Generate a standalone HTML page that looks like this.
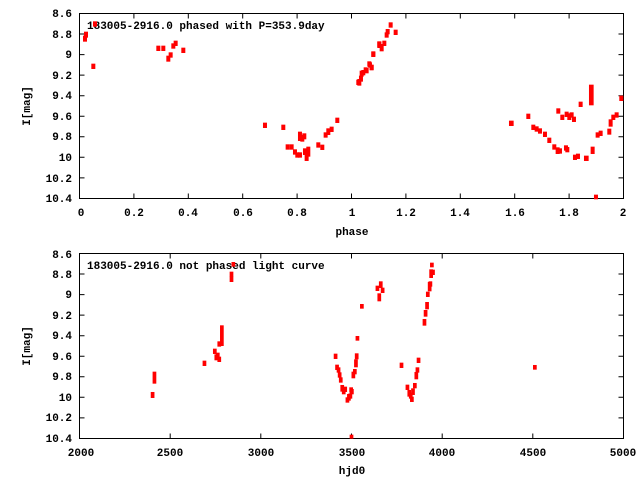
<!DOCTYPE html>
<html><head><style>
html,body{margin:0;padding:0;background:#fff;}
svg text{font-family:"Liberation Mono","DejaVu Sans Mono",monospace;font-weight:bold;font-size:11px;fill:#000;}
</style></head><body>
<svg width="640" height="480" xmlns="http://www.w3.org/2000/svg">
<g stroke="#000" stroke-width="1" fill="none">
<rect x="79.5" y="13.5" width="544" height="185"/>
<rect x="79.5" y="253.5" width="544" height="185"/>
<path d="M79.5 34h5M79.5 54.6h5M79.5 75.1h5M79.5 95.7h5M79.5 116.2h5M79.5 136.8h5M79.5 157.3h5M79.5 177.9h5
M623.5 34h-5M623.5 54.6h-5M623.5 75.1h-5M623.5 95.7h-5M623.5 116.2h-5M623.5 136.8h-5M623.5 157.3h-5M623.5 177.9h-5
M79.5 274h5M79.5 294.6h5M79.5 315.1h5M79.5 335.7h5M79.5 356.2h5M79.5 376.8h5M79.5 397.3h5M79.5 417.9h5
M623.5 274h-5M623.5 294.6h-5M623.5 315.1h-5M623.5 335.7h-5M623.5 356.2h-5M623.5 376.8h-5M623.5 397.3h-5M623.5 417.9h-5
M133.9 198.5v-5M188.3 198.5v-5M242.7 198.5v-5M297.1 198.5v-5M351.5 198.5v-5M405.9 198.5v-5M460.3 198.5v-5M514.7 198.5v-5M569.1 198.5v-5
M133.9 13.5v5M188.3 13.5v5M242.7 13.5v5M297.1 13.5v5M351.5 13.5v5M405.9 13.5v5M460.3 13.5v5M514.7 13.5v5M569.1 13.5v5
M170.2 438.5v-5M260.8 438.5v-5M351.5 438.5v-5M442.2 438.5v-5M532.8 438.5v-5
M170.2 253.5v5M260.8 253.5v5M351.5 253.5v5M442.2 253.5v5M532.8 253.5v5"/>
</g>
<g text-anchor="end">
<text x="72" y="17">8.6</text><text x="72" y="38">8.8</text><text x="72" y="58">9</text><text x="72" y="79">9.2</text><text x="72" y="99">9.4</text><text x="72" y="120">9.6</text><text x="72" y="140">9.8</text><text x="72" y="161">10</text><text x="72" y="182">10.2</text><text x="72" y="202">10.4</text>
<text x="72" y="258">8.6</text><text x="72" y="278">8.8</text><text x="72" y="298">9</text><text x="72" y="319">9.2</text><text x="72" y="339">9.4</text><text x="72" y="360">9.6</text><text x="72" y="380">9.8</text><text x="72" y="401">10</text><text x="72" y="421">10.2</text><text x="72" y="442">10.4</text>
</g>
<g text-anchor="middle">
<text x="81" y="216">0</text><text x="134" y="216">0.2</text><text x="188" y="216">0.4</text><text x="243" y="216">0.6</text><text x="297" y="216">0.8</text><text x="352" y="216">1</text><text x="406" y="216">1.2</text><text x="460" y="216">1.4</text><text x="515" y="216">1.6</text><text x="569" y="216">1.8</text><text x="623" y="216">2</text>
<text x="81" y="456">2000</text><text x="170" y="456">2500</text><text x="261" y="456">3000</text><text x="352" y="456">3500</text><text x="442" y="456">4000</text><text x="533" y="456">4500</text><text x="623" y="456">5000</text>
<text x="352" y="235">phase</text><text x="352" y="474">hjd0</text>
<text transform="translate(30,106) rotate(-90)">I[mag]</text>
<text transform="translate(30,346) rotate(-90)">I[mag]</text>
</g>
<text x="87" y="29">183005-2916.0 phased with P=353.9day</text>
<text x="87" y="269">183005-2916.0 not phased light curve</text>
<g fill="#f00">
<g transform="translate(60,0) scale(0.3333)">
<g id="p1">
<rect x="69" y="107" width="12" height="18"/><rect x="72" y="95" width="12" height="18"/><rect x="99" y="64" width="12" height="16"/><rect x="94" y="191" width="12" height="16"/>
<rect x="289" y="137" width="12" height="16"/><rect x="304" y="137" width="12" height="16"/><rect x="319" y="167" width="12" height="18"/><rect x="326" y="157" width="12" height="16"/><rect x="334" y="130" width="12" height="16"/><rect x="341" y="122" width="12" height="16"/><rect x="364" y="143" width="12" height="16"/>
<rect x="609" y="368" width="12" height="16"/><rect x="664" y="374" width="12" height="16"/><rect x="677" y="433" width="12" height="16"/><rect x="689" y="433" width="12" height="16"/><rect x="699" y="448" width="12" height="16"/><rect x="706" y="457" width="12" height="16"/><rect x="714" y="457" width="12" height="16"/><rect x="714" y="395" width="12" height="28"/><rect x="721" y="405" width="12" height="20"/><rect x="727" y="400" width="12" height="18"/><rect x="729" y="445" width="12" height="20"/><rect x="734" y="465" width="12" height="18"/><rect x="739" y="440" width="12" height="30"/>
<rect x="769" y="427" width="12" height="16"/><rect x="781" y="434" width="12" height="16"/><rect x="791" y="397" width="12" height="16"/><rect x="799" y="385" width="12" height="20"/><rect x="809" y="380" width="12" height="16"/><rect x="826" y="353" width="12" height="16"/>
<rect x="889" y="239" width="12" height="16"/><rect x="897" y="227" width="12" height="18"/><rect x="904" y="210" width="12" height="16"/><rect x="914" y="204" width="12" height="16"/><rect x="924" y="187" width="12" height="16"/><rect x="934" y="155" width="12" height="16"/><rect x="929" y="195" width="12" height="16"/><rect x="952" y="124" width="12" height="20"/>
</g></g>
<g transform="translate(320,0) scale(0.3333)">
<rect x="112" y="237" width="12" height="20"/><rect x="119" y="212" width="12" height="18"/><rect x="131" y="202" width="12" height="16"/><rect x="142" y="184" width="12" height="16"/><rect x="149" y="194" width="12" height="16"/><rect x="154" y="154" width="12" height="16"/><rect x="172" y="125" width="12" height="16"/><rect x="179" y="132" width="12" height="22"/><rect x="187" y="122" width="12" height="16"/><rect x="194" y="97" width="12" height="16"/><rect x="197" y="87" width="12" height="16"/><rect x="206" y="67" width="12" height="16"/><rect x="221" y="89" width="12" height="16"/>
<rect x="567" y="362" width="14" height="16"/><rect x="619" y="341" width="12" height="16"/><rect x="634" y="374" width="12" height="16"/><rect x="644" y="379" width="12" height="16"/><rect x="654" y="385" width="12" height="16"/><rect x="669" y="395" width="12" height="16"/><rect x="682" y="413" width="12" height="16"/><rect x="697" y="433" width="12" height="16"/><rect x="707" y="442" width="12" height="20"/><rect x="714" y="445" width="12" height="16"/><rect x="709" y="325" width="12" height="16"/><rect x="721" y="344" width="12" height="16"/><rect x="732" y="436" width="12" height="16"/><rect x="736" y="441" width="12" height="16"/><rect x="734" y="335" width="12" height="16"/><rect x="742" y="340" width="12" height="20"/><rect x="749" y="337" width="12" height="16"/><rect x="756" y="350" width="12" height="16"/><rect x="759" y="464" width="12" height="16"/><rect x="768" y="461" width="12" height="16"/><rect x="776" y="305" width="12" height="16"/><rect x="792" y="467" width="14" height="16"/><rect x="807" y="254" width="14" height="62"/><rect x="812" y="440" width="12" height="22"/><rect x="822" y="584" width="12" height="14"/><rect x="827" y="397" width="12" height="16"/><rect x="836" y="392" width="12" height="16"/><rect x="862" y="386" width="12" height="18"/><rect x="866" y="358" width="12" height="22"/><rect x="874" y="344" width="12" height="16"/><rect x="884" y="337" width="12" height="16"/><rect x="898" y="287" width="12" height="16"/>
</g>
<g transform="translate(60,240) scale(0.3704,0.3333)">
<rect x="245" y="456" width="10" height="18"/><rect x="250" y="395" width="10" height="36"/><rect x="385" y="362" width="10" height="16"/><rect x="413" y="326" width="10" height="16"/><rect x="417" y="343" width="10" height="18"/><rect x="421" y="338" width="10" height="16"/><rect x="425" y="350" width="10" height="16"/><rect x="425" y="304" width="10" height="16"/><rect x="432" y="256" width="10" height="62"/><rect x="458" y="95" width="10" height="16"/><rect x="458" y="110" width="10" height="16"/><rect x="463" y="66" width="10" height="14"/>
<rect x="739" y="341" width="10" height="16"/><rect x="743" y="374" width="10" height="16"/><rect x="747" y="382" width="10" height="16"/><rect x="750" y="397" width="10" height="16"/><rect x="753" y="412" width="10" height="16"/><rect x="757" y="435" width="10" height="20"/><rect x="761" y="445" width="10" height="18"/><rect x="765" y="440" width="10" height="16"/><rect x="771" y="472" width="10" height="16"/><rect x="775" y="462" width="10" height="20"/><rect x="779" y="460" width="10" height="16"/><rect x="781" y="442" width="10" height="16"/><rect x="783" y="447" width="10" height="16"/><rect x="782" y="584" width="10" height="12"/><rect x="787" y="395" width="10" height="20"/><rect x="791" y="387" width="10" height="16"/><rect x="794" y="358" width="10" height="24"/><rect x="796" y="340" width="10" height="18"/><rect x="798" y="288" width="10" height="14"/><rect x="810" y="192" width="10" height="14"/><rect x="852" y="137" width="10" height="16"/><rect x="857" y="160" width="10" height="24"/><rect x="861" y="124" width="10" height="20"/><rect x="866" y="143" width="10" height="16"/><rect x="917" y="368" width="10" height="16"/><rect x="933" y="434" width="10" height="16"/><rect x="938" y="450" width="10" height="20"/><rect x="942" y="458" width="10" height="18"/><rect x="945" y="470" width="10" height="16"/><rect x="948" y="445" width="10" height="20"/><rect x="953" y="429" width="10" height="16"/><rect x="957" y="396" width="10" height="22"/><rect x="960" y="382" width="10" height="16"/><rect x="963" y="353" width="10" height="16"/><rect x="979" y="237" width="10" height="20"/><rect x="982" y="210" width="10" height="20"/><rect x="986" y="186" width="10" height="22"/><rect x="988" y="155" width="10" height="16"/><rect x="993" y="126" width="10" height="28"/><rect x="995" y="124" width="10" height="16"/><rect x="997" y="88" width="10" height="26"/><rect x="1002" y="89" width="10" height="16"/><rect x="999" y="68" width="10" height="14"/><rect x="1277" y="375" width="10" height="14"/>
</g>
</g>
</svg>
</body></html>
